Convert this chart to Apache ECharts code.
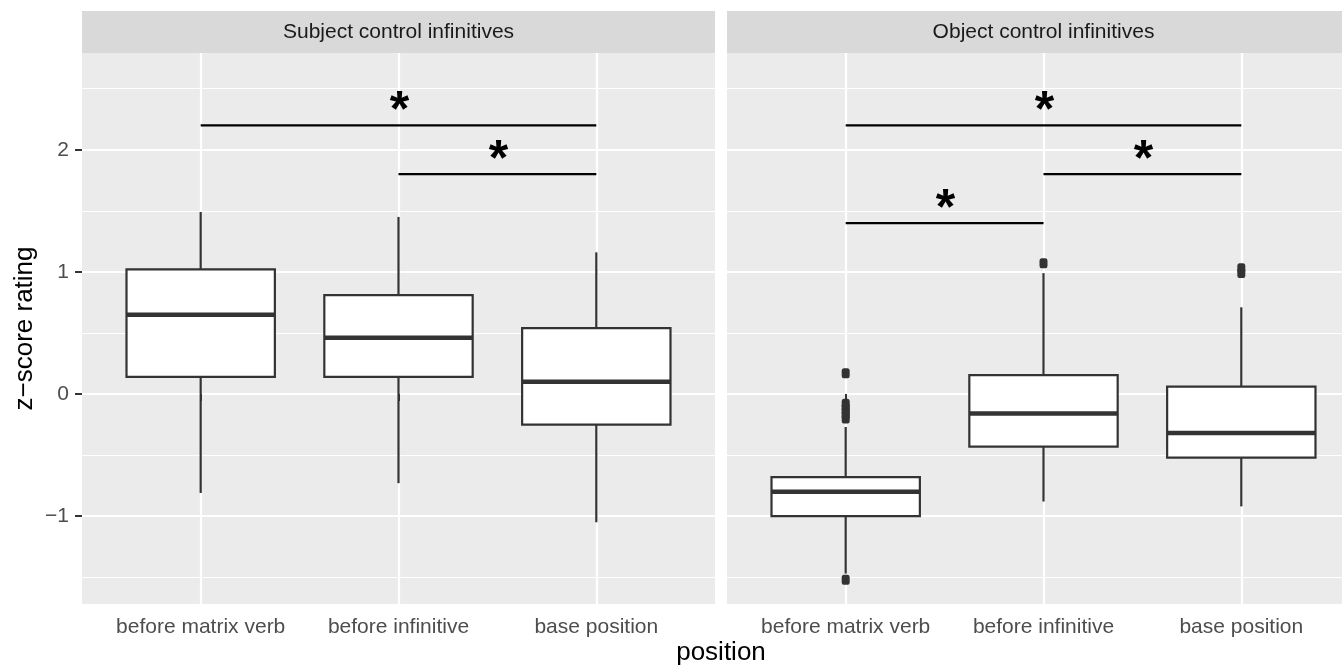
<!DOCTYPE html>
<html>
<head>
<meta charset="utf-8">
<script src="https://cdn.jsdelivr.net/npm/echarts@6/dist/echarts.min.js"></script>
<style>
  html, body { margin: 0; padding: 0; background: #fff; }
  #chart { width: 1342px; height: 667px; }
</style>
</head>
<body>
<div id="chart"></div>
<script>
// categories and facets
var categories = ['before matrix verb', 'before infinitive', 'base position']
var facets = ['Subject control infinitives', 'Object control infinitives']

// boxes: [lower whisker, Q1, median, Q3, upper whisker]
var subjectBoxes = [
  [-0.81, 0.14, 0.65, 1.02, 1.49],
  [-0.73, 0.14, 0.46, 0.81, 1.45],
  [-1.05, -0.25, 0.10, 0.54, 1.16]
]
var objectBoxes = [
  [-1.47, -1.00, -0.80, -0.68, -0.27],
  [-0.88, -0.43, -0.16, 0.155, 0.99],
  [-0.92, -0.52, -0.32, 0.06, 0.71]
]

// outliers: [category index, value]
var subjectOutliers = []
var objectOutliers = [
  [0, 0.17], [0, -0.08], [0, -0.11], [0, -0.14], [0, -0.17], [0, -0.20], [0, -1.52],
  [1, 1.07],
  [2, 0.99], [2, 1.03]
]

// significance brackets: [from category, to category, y]
var subjectSig = [[0, 2, 2.2], [1, 2, 1.8]]
var objectSig = [[0, 2, 2.2], [1, 2, 1.8], [0, 1, 1.4]]

// y axis
var yMin = -1.719
var yMax = 2.792
var yTicks = [-1, 0, 1, 2]
var yMinorTicks = [-1.5, -0.5, 0.5, 1.5, 2.5]

var FONT = '"Liberation Sans", Arial, Helvetica, sans-serif'
var panelTop = 53
var panelHeight = 551
var panelWidth = 633
var panelLefts = [82, 727]
var unit = panelWidth / 3.2

function renderBox(params, api) {
  var x = api.value(0)
  var lo = api.coord([x, api.value(1)])
  var q1 = api.coord([x, api.value(2)])
  var med = api.coord([x, api.value(3)])
  var q3 = api.coord([x, api.value(4)])
  var hi = api.coord([x, api.value(5)])
  var half = api.size([1, 0])[0] * 0.75 / 2
  var stroke = { stroke: '#333333', lineWidth: 2.2 }
  return {
    type: 'group',
    children: [
      { type: 'line', shape: { x1: hi[0], y1: hi[1], x2: q3[0], y2: q3[1] }, style: stroke },
      { type: 'line', shape: { x1: q1[0], y1: q1[1], x2: lo[0], y2: lo[1] }, style: stroke },
      { type: 'rect', shape: { x: q3[0] - half, y: q3[1], width: half * 2, height: q1[1] - q3[1] },
        style: { fill: '#ffffff', stroke: '#333333', lineWidth: 2.2 } },
      { type: 'line', shape: { x1: med[0] - half, y1: med[1], x2: med[0] + half, y2: med[1] },
        style: { stroke: '#333333', lineWidth: 4.5 } }
    ]
  }
}

function renderSig(params, api) {
  var a = api.coord([api.value(0), api.value(2)])
  var b = api.coord([api.value(1), api.value(2)])
  return {
    type: 'group',
    children: [
      { type: 'line', shape: { x1: a[0], y1: a[1], x2: b[0], y2: b[1] },
        style: { stroke: '#000000', lineWidth: 2.2 } },
      { type: 'text', x: (a[0] + b[0]) / 2 + 1, y: a[1] + 12,
        style: { text: '*', fill: '#000', font: 'bold 50px ' + FONT, align: 'center', verticalAlign: 'bottom' } }
    ]
  }
}

function minusFmt(v) {
  return v < 0 ? '\u2212' + Math.abs(v) : String(v)
}

var grids = []
var xAxes = []
var yAxes = []
var series = []
var graphics = []

;[0, 1].forEach(function(p) {
  var left = panelLefts[p]
  var boxes = p === 0 ? subjectBoxes : objectBoxes
  var outliers = p === 0 ? subjectOutliers : objectOutliers
  var sig = p === 0 ? subjectSig : objectSig
  var bgGrid = grids.length
  // panel background with horizontal grid lines
  grids.push({ left: left, top: panelTop, width: panelWidth, height: panelHeight,
    show: true, backgroundColor: '#EBEBEB', borderWidth: 0, containLabel: false })
  // data grid (category bands of one unit)
  grids.push({ left: left + 0.6 * unit - unit / 2, top: panelTop, width: unit * 3, height: panelHeight,
    containLabel: false })

  xAxes.push({ gridIndex: bgGrid, type: 'value', min: 0, max: 1, show: false })
  xAxes.push({
    gridIndex: bgGrid + 1, type: 'category', data: categories, boundaryGap: true,
    axisLine: { show: false },
    axisTick: { show: true, alignWithLabel: true, length: 7, lineStyle: { color: '#333333', width: 2 } },
    axisLabel: { color: '#4D4D4D', fontSize: 21, fontFamily: FONT, margin: 13, interval: 0 },
    splitLine: { show: true, alignWithLabel: true, lineStyle: { color: '#ffffff', width: 2.2 } }
  })

  yAxes.push({
    gridIndex: bgGrid, type: 'value', min: yMin, max: yMax,
    axisLine: { show: false },
    axisTick: { show: p === 0, customValues: yTicks, length: 7, lineStyle: { color: '#333333', width: 2 } },
    axisLabel: { show: p === 0, customValues: yTicks, color: '#4D4D4D', fontSize: 21, fontFamily: FONT,
      margin: 13, formatter: minusFmt },
    splitLine: { show: true, lineStyle: { color: '#ffffff', width: 2.2 } }
  })
  yAxes.push({
    gridIndex: bgGrid, type: 'value', min: yMin, max: yMax,
    axisLine: { show: false },
    axisTick: { show: false, customValues: yMinorTicks },
    axisLabel: { show: false, customValues: yMinorTicks },
    splitLine: { show: true, lineStyle: { color: '#ffffff', width: 1.1 } }
  })
  var dataY = yAxes.length
  yAxes.push({ gridIndex: bgGrid + 1, type: 'value', min: yMin, max: yMax, show: false,
    splitLine: { show: false } })

  series.push({
    type: 'custom', xAxisIndex: bgGrid + 1, yAxisIndex: dataY,
    renderItem: renderBox, encode: { x: 0, y: [1, 2, 3, 4, 5] },
    data: boxes.map(function(b, i) { return [i].concat(b) }),
    silent: true, z: 3
  })
  series.push({
    type: 'scatter', xAxisIndex: bgGrid + 1, yAxisIndex: dataY,
    symbol: 'roundRect', symbolSize: [8, 10], itemStyle: { color: '#333333', opacity: 1 },
    data: outliers, silent: true, z: 4
  })
  series.push({
    type: 'custom', xAxisIndex: bgGrid + 1, yAxisIndex: dataY,
    renderItem: renderSig, encode: { x: [0, 1], y: 2 },
    data: sig, silent: true, z: 5
  })

  // facet strip
  graphics.push({ type: 'rect', left: left, top: 11, shape: { width: panelWidth, height: 42 },
    style: { fill: '#D9D9D9' }, silent: true })
  graphics.push({ type: 'text', x: left + panelWidth / 2, y: 32,
    style: { text: facets[p], fill: '#1A1A1A', font: '21px ' + FONT, align: 'center', verticalAlign: 'middle' } })
})

graphics.push({ type: 'text', x: (panelLefts[0] + panelLefts[1] + panelWidth) / 2, y: 653,
  style: { text: 'position', fill: '#000', font: '26px ' + FONT, align: 'center', verticalAlign: 'middle' } })
graphics.push({ type: 'text', x: 25, y: panelTop + panelHeight / 2, rotation: Math.PI / 2,
  style: { text: 'z\u2212score rating', fill: '#000', font: '26px ' + FONT, align: 'center', verticalAlign: 'middle' } })

var chart = echarts.init(document.getElementById('chart'))
chart.setOption({
  animation: false,
  backgroundColor: '#ffffff',
  grid: grids,
  xAxis: xAxes,
  yAxis: yAxes,
  series: series,
  graphic: graphics
})
</script>
</body>
</html>
